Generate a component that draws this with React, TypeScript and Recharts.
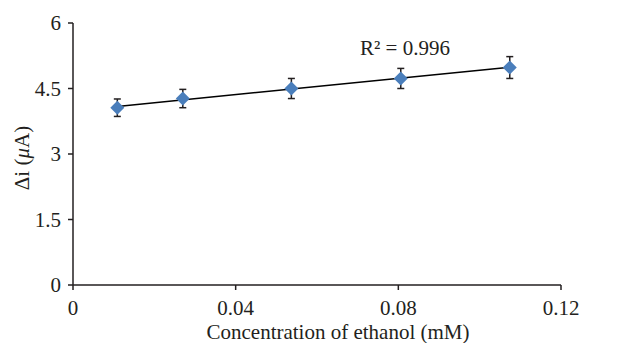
import React from 'react';
import { ScatterChart, Scatter, XAxis, YAxis, ErrorBar } from 'recharts';

const concentrations = [0.0109, 0.027, 0.0537, 0.0806, 0.1074];
const currents = [4.06, 4.27, 4.5, 4.73, 4.98];
const errors = [0.2, 0.21, 0.23, 0.23, 0.25];
const xTicks = [0, 0.04, 0.08, 0.12];
const yTicks = [0, 1.5, 3, 4.5, 6];
const r2Label = 'R² = 0.996';

const points = concentrations.map((x, i) => ({ x, y: currents[i], err: errors[i] }));

// least-squares trendline from the data
const n = points.length;
const mx = concentrations.reduce((a, b) => a + b, 0) / n;
const my = currents.reduce((a, b) => a + b, 0) / n;
let sxy = 0;
let sxx = 0;
points.forEach((p) => {
  sxy += (p.x - mx) * (p.y - my);
  sxx += (p.x - mx) * (p.x - mx);
});
const slope = sxy / sxx;
const intercept = my - slope * mx;
const xFirst = concentrations[0];
const xLast = concentrations[n - 1];
const trend = [
  { x: xFirst, y: intercept + slope * xFirst },
  { x: xLast, y: intercept + slope * xLast },
];

const FONT = '"Liberation Serif", "Times New Roman", serif';
const FS = 21;
const TXT = '#231f20';
const AX = '#231f20';

const Diamond = (props: any) => {
  const { cx, cy } = props;
  if (cx == null || cy == null) return null;
  const r = 7;
  return (
    <path
      d={`M${cx},${cy - r} L${cx + r},${cy} L${cx},${cy + r} L${cx - r},${cy} Z`}
      fill="#4a7ebb"
    />
  );
};

const NoShape = () => <g />;

const YLabel = (props: any) => {
  const vb = props.viewBox || {};
  const cx = 22;
  const cy = (vb.y ?? 0) + (vb.height ?? 0) / 2 + 4;
  return (
    <text
      x={cx}
      y={cy}
      transform={`rotate(-90, ${cx}, ${cy})`}
      textAnchor="middle"
      dominantBaseline="central"
      fontFamily={FONT}
      fontSize={FS}
      fill={TXT}
    >
      <tspan>Δi (</tspan>
      <tspan fontStyle="italic">μ</tspan>
      <tspan>A)</tspan>
    </text>
  );
};

const XLabel = () => {
  return (
    <text x={338} y={339} textAnchor="middle" fontFamily={FONT} fontSize={FS} fill={TXT}>
      Concentration of ethanol (mM)
    </text>
  );
};

export default function App() {
  return (
    <div style={{ position: 'absolute', left: 0, top: 0, width: 621, height: 343, background: '#fff' }}>
      <ScatterChart width={621} height={343} margin={{ top: 23, right: 60, left: 0, bottom: 0 }}>
        <XAxis
          type="number"
          dataKey="x"
          domain={[0, 0.12]}
          ticks={xTicks}
          tickFormatter={(v: number) => String(v)}
          axisLine={{ stroke: AX, strokeWidth: 1.5 }}
          tickLine={{ stroke: AX, strokeWidth: 1.5 }}
          tickSize={5}
          tickMargin={10}
          height={58}
          tick={{ fontFamily: FONT, fontSize: FS, fill: TXT }}
          interval={0}
          allowDataOverflow
          label={<XLabel />}
        />
        <YAxis
          type="number"
          dataKey="y"
          domain={[0, 6]}
          ticks={yTicks}
          axisLine={{ stroke: AX, strokeWidth: 1.5 }}
          tickLine={{ stroke: AX, strokeWidth: 1.5 }}
          tickSize={5}
          tickMargin={7}
          width={73}
          tick={{ fontFamily: FONT, fontSize: FS, fill: TXT }}
          interval={0}
          label={<YLabel />}
        />
        <Scatter
          data={trend}
          line={{ stroke: '#000', strokeWidth: 1.5 }}
          shape={NoShape}
          isAnimationActive={false}
        />
        <Scatter data={points} shape={Diamond} isAnimationActive={false}>
          <ErrorBar dataKey="err" direction="y" width={3.5} stroke="#231f20" strokeWidth={1.5} />
        </Scatter>
      </ScatterChart>
      <svg width={621} height={343} style={{ position: 'absolute', left: 0, top: 0, pointerEvents: 'none' }}>
        <text x={360} y={55} fontFamily={FONT} fontSize={FS} fill={TXT}>
          {r2Label}
        </text>
      </svg>
    </div>
  );
}
